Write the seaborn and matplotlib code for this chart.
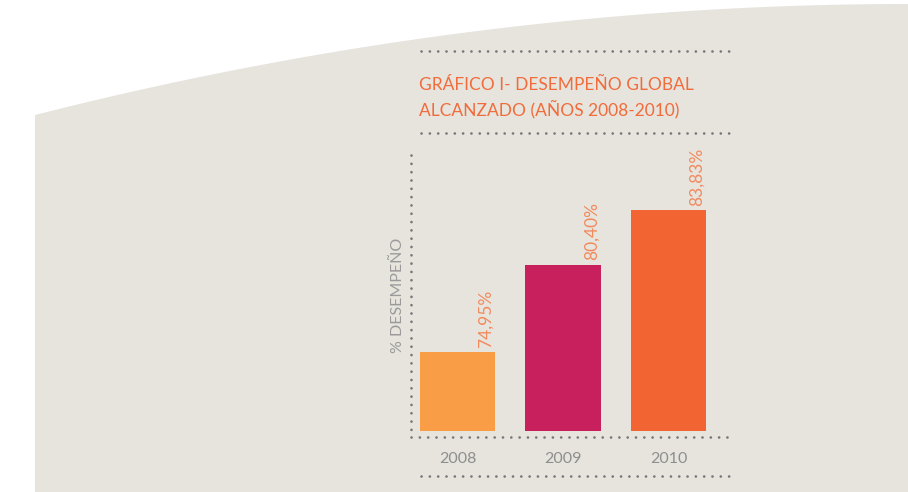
import numpy as np
import pandas as pd
import matplotlib
matplotlib.use("Agg")
import matplotlib.pyplot as plt
from matplotlib.patches import Polygon
from matplotlib.lines import Line2D
import seaborn as sns

# ---- data ----
years = ["2008", "2009", "2010"]
values = [74.95, 80.40, 83.83]
value_labels = ["74,95%", "80,40%", "83,83%"]
bar_colors = ["#F99D46", "#C8205C", "#F26532"]
title_lines = ["GRÁFICO I- DESEMPEÑO GLOBAL", "ALCANZADO (AÑOS 2008-2010)"]
ylabel = "% DESEMPEÑO"

sns.set_theme(style="white")
plt.rcParams["font.family"] = ["Lato", "DejaVu Sans"]

W, H = 908, 492
fig = plt.figure(figsize=(W / 100, H / 100), dpi=100)
fig.patch.set_facecolor("white")

def fx(px):
    return px / W

def fy(py):
    return 1 - py / H

# beige background shape with curved top
xs = np.linspace(35, W, 200)
t = (xs - 35) / (W - 35)
ys = 4 + 111 * (1 - t) ** 2
pts = [(fx(x), fy(y)) for x, y in zip(xs, ys)]
pts += [(fx(W), fy(H)), (fx(35), fy(H))]
fig.patches.append(Polygon(pts, closed=True, transform=fig.transFigure,
                           facecolor="#E6E4DD", edgecolor="none", zorder=-5))

def dotted(x0, y0, x1, y1):
    ln = Line2D([fx(x0), fx(x1)], [fy(y0), fy(y1)], transform=fig.transFigure,
                color="#76767a", linewidth=1.9, linestyle=(0, (0.05, 3.1)),
                dash_capstyle="round", solid_capstyle="round", zorder=3)
    fig.lines.append(ln)

# decorative dotted rules
dotted(421, 51, 731, 51)
dotted(421, 133, 731, 133)
dotted(421, 476, 731, 476)
# axis lines
dotted(411, 437, 731, 437)
dotted(411, 155, 411, 431)

# title
title_color = "#F26B3A"
fig.text(fx(419), fy(90), title_lines[0], color=title_color, fontsize=12.5,
         ha="left", va="baseline")
fig.text(fx(419), fy(115), title_lines[1], color=title_color, fontsize=12.5,
         ha="left", va="baseline")

# axes
ax_left, ax_right, ax_top, ax_bot = 411, 728, 155, 437
ax = fig.add_axes([fx(ax_left), fy(ax_bot), (ax_right - ax_left) / W,
                   (ax_bot - ax_top) / H])
ax.patch.set_visible(False)

df = pd.DataFrame({"year": years, "value": values})
width = 0.72
sns.barplot(data=df, x="year", y="value", hue="year", palette=bar_colors,
            legend=False, width=width, saturation=1, linewidth=0,
            ax=ax, zorder=2)

unit = 105.5
x0 = 457.5
ax.set_xlim((ax_left - x0) / unit, (ax_right - x0) / unit)
ax.set_ylim(70 - 6 / 16, 70 + 276 / 16)

# make bars start at 70
for p in ax.patches:
    h = p.get_height()
    p.set_y(70)
    p.set_height(h - 70)
    p.set_linewidth(0)

for sp in ax.spines.values():
    sp.set_visible(False)
ax.set_yticks([])
ax.tick_params(axis="x", length=0, pad=11, labelsize=11.5, labelcolor="#8e8e8e")
ax.set_xlabel("")
ax.set_ylabel(ylabel, color="#9a9a9a", fontsize=11.5)
ax.yaxis.set_label_coords(-0.02, (437 - 295) / (437 - 155))

for i, (v, lab) in enumerate(zip(values, value_labels)):
    ax.annotate(lab, xy=(i + width / 2, v), xytext=(-7, 3),
                textcoords="offset points", rotation=90, ha="center",
                va="bottom", color="#F28A5E", fontsize=12.5)

fig.savefig("out.png", dpi=100, facecolor="white")
